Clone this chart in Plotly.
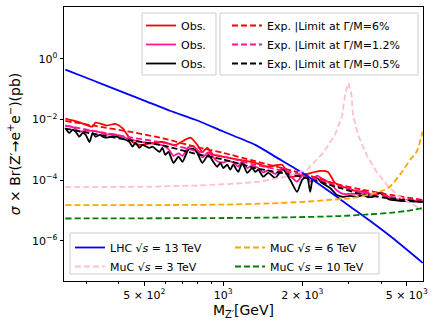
import plotly.graph_objects as go

# ---------------- data (values in pb, masses in GeV) ----------------
mass_obs_red = [250, 280, 317, 326, 360, 388, 413, 451, 479, 520,
                586, 657, 749, 796, 832, 869, 916, 991, 1140, 1323,
                1470, 1676, 1797, 2015, 2337, 2506, 2664, 3040, 3320, 3410,
                3720, 4030, 4310, 4590, 5750]
obs_red = [1.07e-2, 8.3e-3, 5.8e-3, 7.8e-3, 6.3e-3, 7.1e-3, 5.2e-3, 1.8e-3, 1.45e-3, 1.6e-3,
           1.8e-3, 1.45e-3, 2.5e-3, 1.45e-3, 8.5e-4, 1.15e-3, 6.8e-4, 5.9e-4, 4.7e-4, 3.7e-4,
           2.75e-4, 3.2e-4, 1.29e-4, 1.48e-4, 2.0e-4, 1.86e-4, 8.1e-5, 5.0e-5, 4.1e-5, 4.4e-5,
           3.2e-5, 3.8e-5, 2.6e-5, 2.24e-5, 2.0e-5]

mass_obs_pink = [250, 267, 283, 299, 318, 338, 356, 380, 410, 439,
                 463, 492, 537, 586, 618, 646, 675, 699, 736, 769,
                 796, 832, 877, 916, 948, 1000, 1035, 1091, 1140, 1181,
                 1233, 1289, 1359, 1419, 1483, 1577, 1692, 1798, 1911, 1997,
                 2086, 2143, 2277, 2379, 2551, 2712, 2858, 3040, 3234, 3407,
                 3718, 3953, 4315, 5750]
obs_pink = [6.3e-3, 5.6e-3, 4.0e-3, 4.2e-3, 4.2e-3, 3.8e-3, 3.2e-3, 3.3e-3, 2.8e-3, 2.2e-3,
            2.0e-3, 1.8e-3, 1.6e-3, 1.4e-3, 1.05e-3, 6.3e-4, 7.6e-4, 6.3e-4, 1.2e-3, 1.3e-3,
            1.0e-3, 5.6e-4, 8.3e-4, 5.6e-4, 4.2e-4, 3.8e-4, 4.2e-4, 3.8e-4, 2.8e-4, 4.2e-4,
            2.5e-4, 3.0e-4, 2.5e-4, 1.8e-4, 2.1e-4, 1.6e-4, 2.5e-4, 1.4e-4, 8.9e-5, 1.4e-4,
            1.6e-4, 8.9e-5, 1.4e-4, 1.12e-4, 7.9e-5, 4.5e-5, 3.5e-5, 3.5e-5, 3.5e-5, 3.8e-5,
            3.2e-5, 3.8e-5, 2.5e-5, 2.0e-5]

mass_obs_black = [250, 259, 267, 274, 283, 291, 299, 309, 318, 326,
                  338, 347, 356, 380, 410, 439, 451, 463, 479, 492,
                  523, 537, 571, 586, 601, 618, 646, 675, 699, 736,
                  769, 796, 832, 877, 916, 948, 975, 1000, 1035, 1063,
                  1091, 1140, 1181, 1233, 1289, 1324, 1359, 1419, 1483, 1577,
                  1648, 1692, 1798, 1911, 1997, 2086, 2143, 2198, 2277, 2379,
                  2551, 2712, 2858, 3040, 3234, 3407, 3530, 3718, 3953, 4130,
                  4315, 5750]
obs_black = [5.2e-3, 3.6e-3, 4.6e-3, 3.9e-3, 2.7e-3, 3.6e-3, 3.1e-3, 1.8e-3, 3.6e-3, 2.7e-3,
             3.1e-3, 2.7e-3, 2.5e-3, 2.8e-3, 2.4e-3, 1.8e-3, 1.26e-3, 1.7e-3, 1.15e-3, 1.45e-3,
             1.15e-3, 1.26e-3, 8.5e-4, 1.15e-3, 6.8e-4, 8.5e-4, 3.7e-4, 5.9e-4, 4.0e-4, 1.0e-3,
             1.07e-3, 7.9e-4, 3.7e-4, 6.8e-4, 4.0e-4, 2.75e-4, 3.7e-4, 2.5e-4, 3.2e-4, 2.2e-4,
             3.2e-4, 1.86e-4, 3.7e-4, 1.74e-4, 2.5e-4, 1.86e-4, 2.2e-4, 1.29e-4, 1.74e-4, 1.17e-4,
             1.86e-4, 2.2e-4, 1.02e-4, 4.1e-5, 1.02e-4, 1.29e-4, 4.1e-5, 1.17e-4, 1.17e-4, 8.1e-5,
             5.5e-5, 3.2e-5, 2.8e-5, 3.0e-5, 2.8e-5, 3.2e-5, 2.8e-5, 2.8e-5, 3.8e-5, 2.8e-5,
             2.24e-5, 1.9e-5]

mass_exp = [250, 330, 450, 586, 800, 1000, 1324, 2000, 2780, 3320, 4130, 5750]
exp_red = [8.9e-3, 6.0e-3, 3.8e-3, 2.4e-3, 1.2e-3, 7.9e-4, 4.2e-4, 1.66e-4, 6.9e-5, 5.0e-5, 3.5e-5, 2.2e-5]
exp_pink = [6.3e-3, 4.0e-3, 2.5e-3, 1.74e-3, 8.9e-4, 6.0e-4, 3.2e-4, 1.48e-4, 6.0e-5, 4.2e-5, 3.0e-5, 2.0e-5]
exp_black = [5.0e-3, 3.2e-3, 2.0e-3, 1.4e-3, 7.1e-4, 4.8e-4, 2.5e-4, 1.26e-4, 5.5e-5, 3.5e-5, 2.6e-5, 1.9e-5]

mass_lhc = [250, 316, 400, 500, 630, 783, 1000, 1324, 1600, 2000, 2500, 3040, 3600, 4430, 5750]
xs_lhc = [0.44, 0.2, 8.9e-2, 4.2e-2, 1.9e-2, 9.8e-3, 4.0e-3, 1.45e-3, 5.5e-4, 1.74e-4,
          4.6e-5, 1.35e-5, 4.7e-6, 1.2e-6, 1.86e-7]

mass_muc3 = [250, 500, 800, 1100, 1380, 1700, 2090, 2400, 2665, 2840, 2910, 3000,
             3080, 3120, 3260, 3530, 3840, 4200, 4700, 5466, 5750]
xs_muc3 = [5.8e-5, 6.0e-5, 6.6e-5, 7.6e-5, 8.9e-5, 1.26e-4, 2.2e-4, 7.9e-4, 3.1e-3, 1.4e-2, 6.5e-2, 0.16,
           6.5e-2, 1.4e-2, 3.1e-3, 6.3e-4, 1.86e-4, 6.9e-5, 2.8e-5, 1.3e-5, 1.0e-5]

mass_muc6 = [250, 600, 1000, 1500, 2000, 2500, 3040, 3600, 4130, 4315, 4710, 5160, 5470, 5750]
xs_muc6 = [1.48e-5, 1.5e-5, 1.55e-5, 1.7e-5, 1.9e-5, 2.2e-5, 2.5e-5, 3.3e-5, 4.8e-5, 6.0e-5,
           1.5e-4, 4.7e-4, 9.0e-4, 4.0e-3]

mass_muc10 = [250, 1000, 1800, 2780, 3600, 4315, 5000, 5750]
xs_muc10 = [5.4e-6, 5.6e-6, 5.9e-6, 6.5e-6, 7.4e-6, 8.3e-6, 9.6e-6, 1.2e-5]

x_tickvals = [500, 1000, 2000, 5000]
x_ticktext = ["5 × 10<sup>2</sup>", "10<sup>3</sup>", "2 × 10<sup>3</sup>", "5 × 10<sup>3</sup>"]
x_minor = [300, 400, 600, 700, 800, 900, 3000, 4000]
y_tickvals = [1, 1e-2, 1e-4, 1e-6]
y_ticktext = ["10<sup>0</sup>", "10<sup>−2</sup>", "10<sup>−4</sup>", "10<sup>−6</sup>"]

# ---------------- figure ----------------
FONT = "DejaVu Sans"
W, H = 436, 327
ML, MR, MT, MB = 64, 13, 7, 46
PW, PH = W - ML - MR, H - MT - MB


def px(xp):
    return (xp - ML) / PW


def py(yp):
    return (H - MB - yp) / PH


fig = go.Figure()


def add(x, y, name, color, dash, legend, shape="linear", width=1.8):
    fig.add_trace(go.Scatter(x=x, y=y, mode="lines", name=name, legend=legend,
                             line=dict(color=color, width=width, dash=dash, shape=shape,
                                       smoothing=0.6 if shape == "spline" else None)))


DASH = "6px,3px"
add(mass_obs_red, obs_red, "Obs.", "#ff0000", "solid", "legend", "spline")
add(mass_obs_pink, obs_pink, "Obs.", "#ff1493", "solid", "legend", "spline")
add(mass_obs_black, obs_black, "Obs.", "#000000", "solid", "legend", "spline")
add(mass_exp, exp_red, "Exp. |Limit at Γ/M=6%", "#ff0000", DASH, "legend2", "spline")
add(mass_exp, exp_pink, "Exp. |Limit at Γ/M=1.2%", "#ff1493", DASH, "legend2", "spline")
add(mass_exp, exp_black, "Exp. |Limit at Γ/M=0.5%", "#000000", DASH, "legend2", "spline")
add(mass_lhc, xs_lhc, "LHC √<i>s</i> = 13 TeV", "#0000ff", "solid", "legend3", "spline")
add(mass_muc3, xs_muc3, "MuC √<i>s</i> = 3 TeV", "#ffc0cb", DASH, "legend3")
add(mass_muc6, xs_muc6, "MuC √<i>s</i> = 6 TeV", "#ffa500", DASH, "legend4", "spline")
add(mass_muc10, xs_muc10, "MuC √<i>s</i> = 10 TeV", "#008000", DASH, "legend4", "spline")

box_style = dict(type="rect", xref="paper", yref="paper", layer="above",
                 line=dict(color="#cccccc", width=1), fillcolor="rgba(255,255,255,0.8)")
shapes = [
    dict(x0=px(142), x1=px(216), y0=py(75), y1=py(13), **box_style),
    dict(x0=px(220), x1=px(418), y0=py(75), y1=py(13), **box_style),
    dict(x0=px(70), x1=px(379), y0=py(274), y1=py(233), **box_style),
]

leg_common = dict(xanchor="left", yanchor="top", bgcolor="rgba(0,0,0,0)",
                  font=dict(family=FONT, size=11, color="black"), itemwidth=30,
                  borderwidth=0)

axis_common = dict(type="log", showline=True, linecolor="black", linewidth=1, mirror=True,
                   ticks="outside", ticklen=3.5, tickwidth=1, tickcolor="black",
                   showgrid=False, zeroline=False, tickfont=dict(family=FONT, size=11, color="black"))

fig.update_layout(
    width=W, height=H, margin=dict(l=ML, r=MR, t=MT, b=MB, autoexpand=False),
    paper_bgcolor="white", plot_bgcolor="white",
    font=dict(family=FONT, size=11, color="black"),
    shapes=shapes,
    xaxis=dict(range=[2.393, 3.761], tickvals=x_tickvals, ticktext=x_ticktext,
               minor=dict(tickvals=x_minor, ticks="outside", ticklen=2, tickcolor="black", showgrid=False),
               title=dict(text="M<sub>Z′</sub>[GeV]", font=dict(family=FONT, size=14, color="black"), standoff=1),
               **axis_common),
    yaxis=dict(range=[-7.33, 1.71], tickvals=y_tickvals, ticktext=y_ticktext,
               title=dict(text="<i>σ</i> × Br(Z′→e<sup>+</sup>e<sup>−</sup>)(pb)",
                          font=dict(family=FONT, size=14, color="black"), standoff=8),
               **axis_common),
    legend=dict(x=px(141), y=py(11), **leg_common),
    legend2=dict(x=px(227), y=py(11), **leg_common),
    legend3=dict(x=px(70), y=py(233), **leg_common),
    legend4=dict(x=px(230), y=py(233), **leg_common),
)

fig.write_html("out.html", config={"displayModeBar": False},
               post_script="document.body.style.margin='0';")
